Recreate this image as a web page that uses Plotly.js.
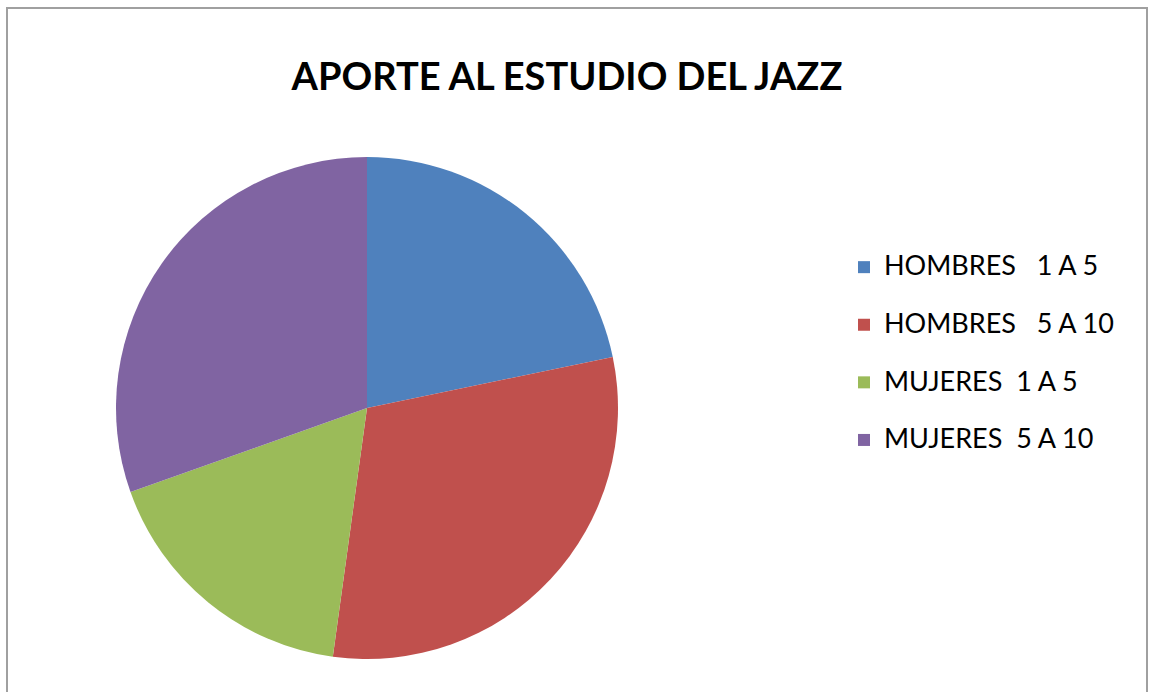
<!DOCTYPE html>
<html>
<head>
<meta charset="utf-8">
<script src="https://cdn.plot.ly/plotly-3.0.1.min.js"></script>
<style>
  html, body { margin: 0; padding: 0; background: #fff; overflow: hidden; }
  #frame { position: absolute; left: 6px; top: 7px; width: 1142px; height: 700px; border: 2px solid #a0a0a0; box-sizing: border-box; pointer-events: none; z-index: 10; }
  #chart { position: absolute; left: 0; top: 0; width: 1154px; height: 692px; }
</style>
</head>
<body>
<div id="chart"></div>
<div id="frame"></div>
<script>
const categories = ["HOMBRES\u00A0\u00A0\u00A01 A 5", "HOMBRES\u00A0\u00A0\u00A05 A 10", "MUJERES\u00A0\u00A01 A 5", "MUJERES\u00A0\u00A05 A 10"];
const values = [5, 7, 4, 7];
const colors = ["#4F81BD", "#C0504D", "#9BBB59", "#8064A2"];
const chartTitle = "APORTE AL ESTUDIO DEL JAZZ";

const W = 1154, H = 692;
const cx = 367, cy = 408, r = 251;

const trace = {
  type: "pie",
  labels: categories.map(c => "<span style='font-size:27px'>" + c + "</span><br>\u00A0"),
  values: values,
  sort: false,
  direction: "clockwise",
  rotation: 0,
  textinfo: "none",
  hoverinfo: "label+value+percent",
  marker: { colors: colors, line: { width: 0 } },
  domain: { x: [(cx - r) / W, (cx + r) / W], y: [(H - cy - r) / H, (H - cy + r) / H] }
};

const layout = {
  width: W, height: H,
  margin: { l: 0, r: 0, t: 0, b: 0 },
  paper_bgcolor: "#fff",
  title: {
    text: "<b>" + chartTitle + "</b>",
    font: { family: "Lato, 'Open Sans', sans-serif", size: 38, color: "#000" },
    x: 567 / W, xanchor: "center", xref: "paper",
    y: 1 - 77 / H, yanchor: "middle", yref: "paper"
  },
  showlegend: true,
  legend: {
    x: 844 / W, xanchor: "left",
    y: 1 - 247 / H, yanchor: "top",
    valign: "top",
    font: { family: "Lato, 'Open Sans', sans-serif", size: 21, color: "#000" },
    bgcolor: "rgba(0,0,0,0)",
    itemsizing: "constant"
  }
};

Plotly.newPlot("chart", [trace], layout, { displayModeBar: false, staticPlot: true });
</script>
</body>
</html>
